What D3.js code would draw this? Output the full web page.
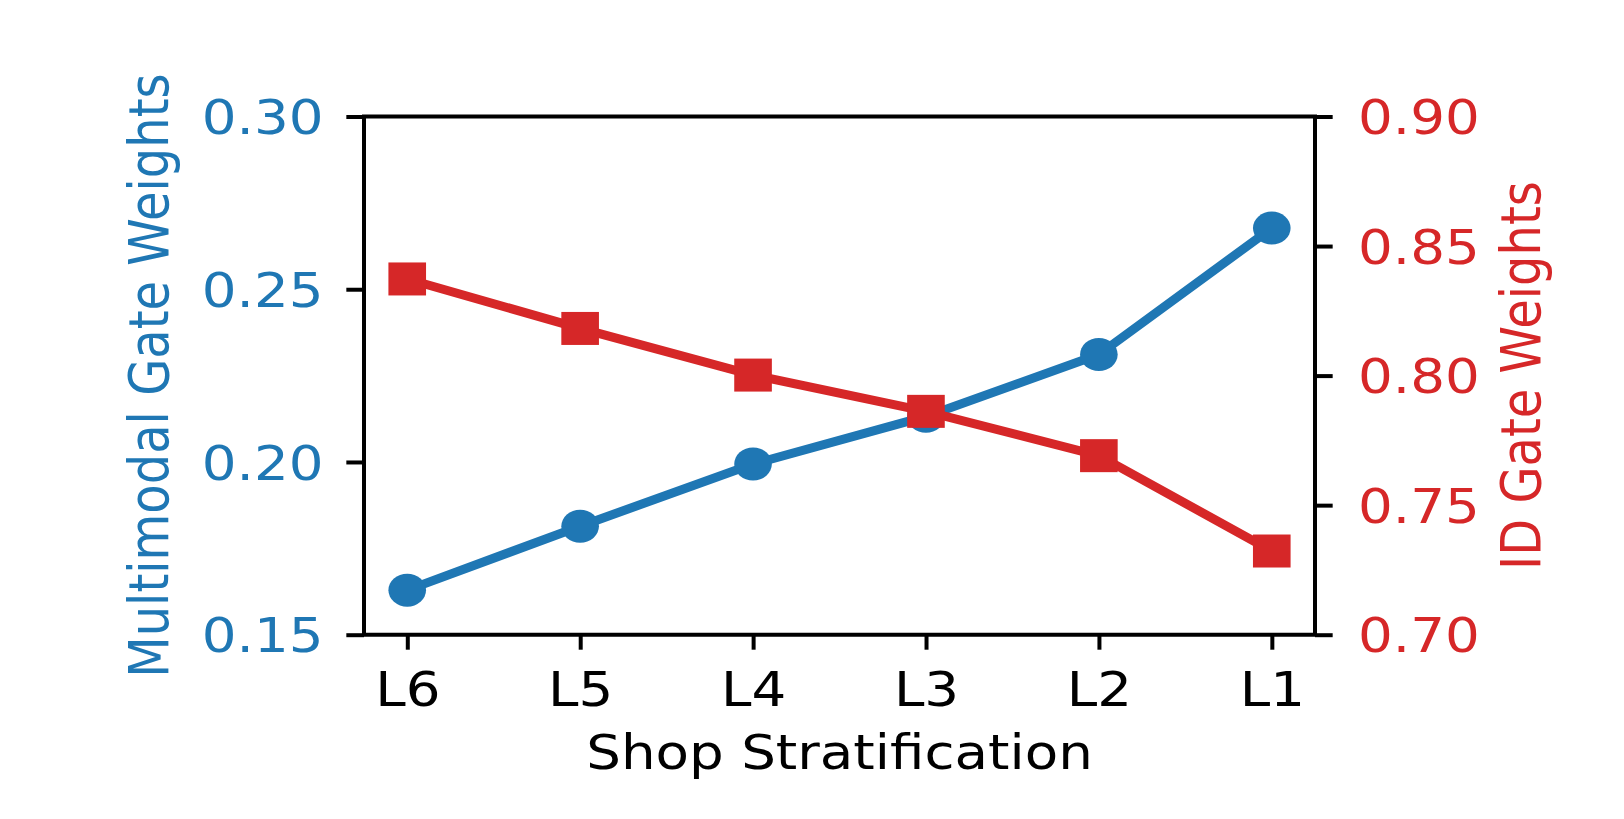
<!DOCTYPE html>
<html>
<head>
<meta charset="utf-8">
<title>Gate Weights by Shop Stratification</title>
<script src="https://d3js.org/d3.v7.min.js"></script>
<style>
html, body { margin: 0; padding: 0; background: #fff; }
svg { display: block; }
text { font-family: "DejaVu Sans", sans-serif; }
line, path, rect { vector-effect: non-scaling-stroke; }
</style>
</head>
<body>
<script>
const levels = ['L6', 'L5', 'L4', 'L3', 'L2', 'L1'];
const multimodalWeights = [0.1629, 0.1814, 0.1994, 0.2132, 0.2311, 0.2677];
const idWeights = [0.8373, 0.8182, 0.8002, 0.7862, 0.7691, 0.7323];
const leftTicks = [0.15, 0.20, 0.25, 0.30];
const rightTicks = [0.70, 0.75, 0.80, 0.85, 0.90];

const width = 1624, height = 819;
const sx = 1.14;                 // the source picture is stretched sideways
const vbW = width / sx;
const x0 = 364 / sx, x1 = 1315 / sx, y0 = 116.5, y1 = 634.7;
const fs = 48;
const blue = '#1f77b4', red = '#d62728';

let svg = d3.select('body').append('svg')
    .attr('width', width).attr('height', height)
    .attr('viewBox', '0 0 ' + vbW + ' ' + height)
    .attr('preserveAspectRatio', 'none');

let xScale = d3.scalePoint().domain(levels).range([x0, x1]).padding(0.25);
let yLeft = d3.scaleLinear().domain([0.15, 0.30]).range([y1, y0]);
let yRight = d3.scaleLinear().domain([0.70, 0.90]).range([y1, y0]);

// axes
let xAxis = svg.append('g').attr('transform', 'translate(0,' + y1 + ')')
    .call(d3.axisBottom(xScale).tickSize(15));
xAxis.selectAll('text').attr('y', 71.5).attr('dy', null).attr('fill', '#000');

let leftAxis = svg.append('g').attr('transform', 'translate(' + x0 + ',0)')
    .call(d3.axisLeft(yLeft).tickValues(leftTicks).tickFormat(d3.format('.2f')).tickSize(15.5).tickPadding(20));
leftAxis.selectAll('text').attr('fill', blue).attr('dy', '0.36em');

let rightAxis = svg.append('g').attr('transform', 'translate(' + x1 + ',0)')
    .call(d3.axisRight(yRight).tickValues(rightTicks).tickFormat(d3.format('.2f')).tickSize(15.5).tickPadding(22.2));
rightAxis.selectAll('text').attr('fill', red).attr('dy', '0.36em');

[xAxis, leftAxis, rightAxis].forEach(g => {
    g.select('.domain').remove();
    g.attr('font-size', fs).attr('font-family', '"DejaVu Sans", sans-serif');
    g.selectAll('.tick line').attr('stroke', '#000').attr('stroke-width', 4);
});

// frame
svg.append('rect').attr('x', x0).attr('y', y0).attr('width', x1 - x0).attr('height', y1 - y0)
    .attr('fill', 'none').attr('stroke', '#000').attr('stroke-width', 4);

// multimodal series
let lineLeft = d3.line().x((d, i) => xScale(levels[i])).y(d => yLeft(d));
svg.append('path').datum(multimodalWeights).attr('d', lineLeft)
    .attr('fill', 'none').attr('stroke', blue).attr('stroke-width', 9);
svg.selectAll('circle.mm').data(multimodalWeights).enter().append('circle')
    .attr('class', 'mm')
    .attr('cx', (d, i) => xScale(levels[i])).attr('cy', d => yLeft(d))
    .attr('r', 16.5).attr('fill', blue);

// ID series
let lineRight = d3.line().x((d, i) => xScale(levels[i])).y(d => yRight(d));
svg.append('path').datum(idWeights).attr('d', lineRight)
    .attr('fill', 'none').attr('stroke', red).attr('stroke-width', 9);
svg.selectAll('rect.id').data(idWeights).enter().append('rect')
    .attr('class', 'id')
    .attr('x', (d, i) => xScale(levels[i]) - 16.5).attr('y', d => yRight(d) - 16.5)
    .attr('width', 33).attr('height', 33).attr('fill', red);

// labels
svg.append('text').attr('x', (x0 + x1) / 2).attr('y', 769)
    .attr('text-anchor', 'middle').attr('font-size', fs).attr('fill', '#000')
    .text('Shop Stratification');

svg.append('text').attr('transform', 'translate(' + (168 / sx) + ',' + ((y0 + y1) / 2) + ') rotate(-90)')
    .attr('text-anchor', 'middle').attr('font-size', fs).attr('fill', blue)
    .text('Multimodal Gate Weights');

svg.append('text').attr('transform', 'translate(' + (1540 / sx) + ',' + ((y0 + y1) / 2) + ') rotate(-90)')
    .attr('text-anchor', 'middle').attr('font-size', fs).attr('fill', red)
    .text('ID Gate Weights');
</script>
</body>
</html>
